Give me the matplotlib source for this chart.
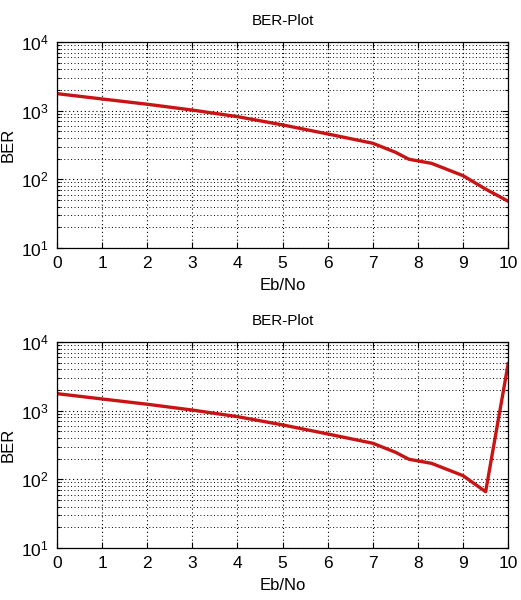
import numpy as np
import matplotlib
matplotlib.use('Agg')
import matplotlib.pyplot as plt
from matplotlib.ticker import LogLocator, FixedLocator

# =============================================================================
# DATA
# =============================================================================
ebno = [0, 1, 2, 3, 4, 5, 6, 7, 7.5, 7.8, 8.3, 9, 9.5, 10]
ber_top = [1770, 1480, 1240, 1020, 818, 620, 458, 335, 248, 196, 171, 113, 72, 48]
ber_bot = [1770, 1480, 1240, 1020, 818, 620, 458, 335, 248, 196, 171, 113, 66, 4840]
x_ticks = list(range(0, 11))
# =============================================================================

FONT = ['Liberation Sans', 'DejaVu Sans']
plt.rcParams['font.family'] = FONT
plt.rcParams['mathtext.fontset'] = 'custom'
plt.rcParams['mathtext.rm'] = FONT[0]
plt.rcParams['mathtext.it'] = FONT[0]

DOTS = (0, (1, 2.5))


def ber_axes(fig, rect, x, y):
    ax = fig.add_axes(rect)
    ax.semilogy(x, y, color='#c81414', lw=2.4, solid_joinstyle='round')
    ax.set_xlim(0, 10)
    ax.set_ylim(10, 1e4)
    ax.xaxis.set_major_locator(FixedLocator(x_ticks))
    ax.yaxis.set_major_locator(LogLocator(base=10))
    ax.yaxis.set_minor_locator(LogLocator(base=10, subs=np.arange(2, 10)))
    ax.grid(True, which='major', color='k', ls=DOTS, lw=0.8)
    ax.grid(True, which='minor', axis='y', color='k', ls=DOTS, lw=0.7)
    ax.tick_params(which='both', direction='in', top=True, right=True,
                   labelsize=12.5, width=0.8)
    ax.tick_params(which='major', length=4, pad=6)
    ax.tick_params(which='minor', length=2)
    ax.set_title('BER-Plot', fontsize=11, pad=12)
    ax.set_xlabel('Eb/No', fontsize=12, labelpad=5)
    ax.set_ylabel('BER', fontsize=12, labelpad=4)
    for s in ax.spines.values():
        s.set_linewidth(0.9)
    return ax


fig = plt.figure(figsize=(5.21, 6.0), dpi=100)
ber_axes(fig, [0.1094, 0.5867, 0.866, 0.3433], ebno, ber_top)
ber_axes(fig, [0.1094, 0.0867, 0.866, 0.3433], ebno, ber_bot)
fig.savefig('out.png', dpi=100)
